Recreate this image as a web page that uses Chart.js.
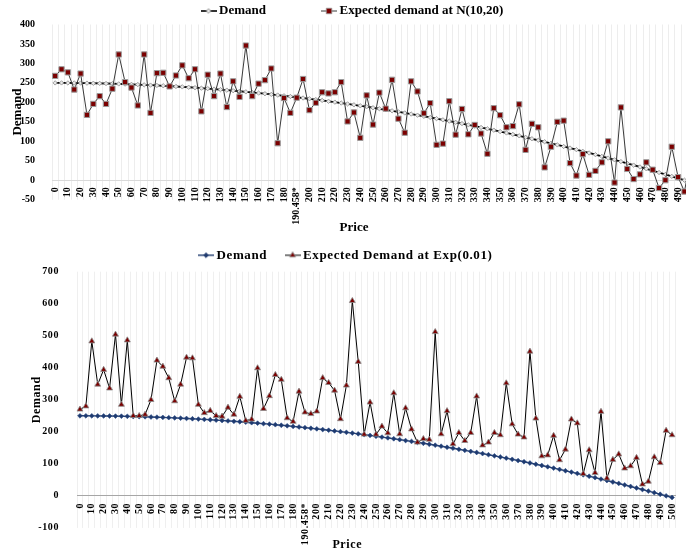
<!DOCTYPE html>
<html><head><meta charset="utf-8">
<script src="https://cdn.jsdelivr.net/npm/chart.js@4.4.1/dist/chart.umd.min.js"></script>
<style>
html,body{margin:0;padding:0;background:#fff;overflow:hidden;width:686px;height:553px;}
#wrap1{position:absolute;left:0;top:0;width:686px;height:240px;overflow:hidden;}
#wrap2{position:absolute;left:0;top:240px;width:686px;height:313px;overflow:hidden;}
canvas{display:block;}
</style></head><body>
<div id="wrap1"><canvas id="c1" width="710" height="240"></canvas></div>
<div id="wrap2"><canvas id="c2" width="700" height="313"></canvas></div>
<script>
const priceLabels = ['0','5','10','15','20','25','30','35','40','45','50','55','60','65','70','75','80','85','90','95',
 '100','105','110','115','120','125','130','135','140','145','150','155','160','165','170','175','180','185','190.458*','195',
 '200','205','210','215','220','225','230','235','240','245','250','255','260','265','270','275','280','285','290','295',
 '300','305','310','315','320','325','330','335','340','345','350','355','360','365','370','375','380','385','390','395',
 '400','405','410','415','420','425','430','435','440','445','450','455','460','465','470','475','480','485','490','495','500'];

const demand = [250,250,249.9,249.8,249.6,249.4,249.1,248.8,248.4,247.9,
 247.4,246.9,246.3,245.7,245,244.3,243.5,242.6,241.7,240.8,
 239.8,238.8,237.7,236.5,235.3,234.1,232.8,231.4,230,228.5,
 227,225.5,223.9,222.2,220.5,218.8,216.9,215.1,213,211.2,
 209.2,207.1,205,202.8,200.6,198.3,196,193.7,191.2,188.8,
 186.2,183.6,181,178.3,175.6,172.8,170,167.1,164.2,161.2,
 158.2,155.1,151.9,148.8,145.5,142.2,138.9,135.5,132,128.6,
 125,121.4,117.8,114.1,110.3,106.5,102.7,98.8,94.8,90.8,
 86.7,82.6,78.5,74.3,70,65.7,61.3,56.9,52.4,47.9,
 43.4,38.8,34.1,29.4,24.6,19.8,14.9,10,5,0,
 -5.1];

const expectedNormal = [268,285,277,233,274,168,196,216,196,235,
 323,252,238,192,323,173,275,276,241,269,
 295,262,285,177,271,216,274,188,254,214,
 346,216,248,257,287,95,211,173,212,260,
 180,199,226,223,226,252,151,174,109,218,
 143,225,184,258,158,122,254,228,172,198,
 91,94,203,117,183,118,142,120,68,185,
 167,136,139,195,78,145,136,33,86,150,
 153,44,12,67,14,24,46,100,-6,187,
 29,3,15,46,27,-20,0,86,8,-29,
 60];

const expectedExp = [270,280,483,348,394,336,504,285,486,250,
 250,254,300,423,404,368,296,348,432,430,
 285,259,266,250,248,276,254,310,235,239,
 399,272,312,378,363,243,232,326,261,256,
 264,368,353,329,240,345,609,419,192,292,
 192,217,196,321,193,274,208,167,178,176,
 512,193,265,162,197,172,197,311,158,167,
 197,190,352,224,192,183,451,242,124,127,
 188,112,145,239,227,69,143,72,263,55,
 113,130,86,93,119,36,45,121,103,204,
 190];

const topYTicks = [-50,0,50,100,150,200,250,300,350,400];
const bottomYTicks = [-100,0,100,200,300,400,500,600,700];

const FONT = "'Liberation Serif', 'Times New Roman', serif";
Chart.defaults.font.family = FONT;
Chart.defaults.color = '#000';

function legendIcon(lineColor, lineWidth, style, fill, stroke, r) {
  const c = document.createElement('canvas');
  c.width = 16; c.height = 10;
  const g = c.getContext('2d');
  g.strokeStyle = lineColor; g.lineWidth = lineWidth;
  g.beginPath(); g.moveTo(0, 5); g.lineTo(16, 5); g.stroke();
  g.fillStyle = fill; g.strokeStyle = stroke; g.lineWidth = 0.8;
  Chart.helpers.drawPoint(g, {pointStyle: style, radius: r, borderWidth: 0.8, rotation: 0}, 8, 5);
  return c;
}
function makeLegend(items) {
  return function() {
    return items.map((it, i) => ({
      text: it.text, pointStyle: it.icon, fillStyle: 'rgba(0,0,0,0)',
      strokeStyle: 'rgba(0,0,0,0)', lineWidth: 0, hidden: false, datasetIndex: i, fontColor: '#000'
    }));
  };
}
function zeroPad(s) { s.paddingLeft = 0; s.paddingRight = 0; }
function spacer(w) {
  return { position: 'right', display: true, grid: { display: false }, border: { display: false },
    ticks: { display: false }, afterFit(s) { s.width = w; } };
}

const topIcons = [
  legendIcon('#000', 1.6, 'rectRot', '#E8E8E8', '#8C8C8C', 2.4),
  legendIcon('#3A3A3A', 1, 'rect', '#7B0000', '#9A9A9A', 3.9)
];
const botIcons = [
  legendIcon('#1F3A6E', 1.4, 'rectRot', '#1F3A6E', '#1F3A6E', 2.4),
  legendIcon('#000', 1, 'triangle', '#7B0000', '#8C8C8C', 3.4)
];

new Chart(document.getElementById('c1'), {
  type: 'line',
  data: {
    labels: priceLabels,
    datasets: [
      { label: 'Demand', data: demand, borderColor: '#000', borderWidth: 1.8, tension: 0,
        pointStyle: 'rectRot', pointRadius: 2.2, pointBackgroundColor: '#E8E8E8',
        pointBorderColor: '#8C8C8C', pointBorderWidth: 0.8, order: 1 },
      { label: 'Expected demand at N(10,20)', data: expectedNormal, borderColor: '#3A3A3A', borderWidth: 1, tension: 0,
        pointStyle: 'rect', pointRadius: 3.7, pointBackgroundColor: '#7B0000',
        pointBorderColor: '#9A9A9A', pointBorderWidth: 1, order: 0 }
    ]
  },
  options: {
    responsive: false, animation: false, devicePixelRatio: 1,
    layout: { padding: { left: 0, right: 2, top: -54.5, bottom: 0 } },
    plugins: {
      legend: { position: 'top', maxHeight: 79,
        labels: { usePointStyle: true, pointStyleWidth: 8, padding: 59,
          font: { family: FONT, size: 13, weight: 'bold' }, color: '#000',
          generateLabels: makeLegend([{text: 'Demand', icon: topIcons[0]}, {text: 'Expected demand at N(10,20)', icon: topIcons[1]}]) } },
      title: { display: true, position: 'bottom', text: 'Price', color: '#000',
        font: { family: FONT, size: 13, weight: 'bold' }, padding: { top: 20.5, bottom: 4.2 } },
      tooltip: { enabled: false }
    },
    scales: {
      x: { type: 'category', position: { y: 0 }, offset: true, afterFit: zeroPad,
        grid: { offset: true, color: '#EDEDED', drawTicks: false, lineWidth: 1 },
        border: { display: true, color: '#D9D9D9' },
        ticks: { autoSkip: false, minRotation: 90, maxRotation: 90, padding: 7, color: '#000',
          font: { family: FONT, size: 10, weight: 'bold' },
          callback: (v, i) => (i % 2 === 0 ? priceLabels[i] : '') } },
      y: { position: 'left', min: topYTicks[0], max: topYTicks[topYTicks.length - 1],
        afterFit(s) { s.width = 52; },
        grid: { display: false }, border: { display: false },
        ticks: { stepSize: topYTicks[1] - topYTicks[0], padding: 9, color: '#000',
          font: { family: FONT, size: 10, weight: 'bold' } },
        title: { display: true, text: 'Demand', color: '#000',
          font: { family: FONT, size: 13, weight: 'bold' }, padding: { top: 10.2, bottom: 0 } } },
      y2: spacer(14)
    }
  }
});

const spacingPlugin = {
  id: 'spacing',
  beforeUpdate(chart) { chart.ctx.letterSpacing = '0.6px'; },
  beforeDraw(chart) { chart.ctx.letterSpacing = '0.6px'; }
};

new Chart(document.getElementById('c2'), {
  type: 'line',
  plugins: [spacingPlugin],
  data: {
    labels: priceLabels,
    datasets: [
      { label: 'Demand', data: demand, borderColor: '#1F3A6E', borderWidth: 1.4, tension: 0,
        pointStyle: 'rectRot', pointRadius: 2.4, pointBackgroundColor: '#1F3A6E',
        pointBorderColor: '#2E4F8A', pointBorderWidth: 0.6, order: 1 },
      { label: 'Expected Demand at Exp(0.01)', data: expectedExp, borderColor: '#000', borderWidth: 1, tension: 0,
        pointStyle: 'triangle', pointRadius: 3.4, pointBackgroundColor: '#7B0000',
        pointBorderColor: '#8C8C8C', pointBorderWidth: 0.8, order: 0 }
    ]
  },
  options: {
    responsive: false, animation: false, devicePixelRatio: 1,
    layout: { padding: { left: 0, right: 5.5, top: -12.8, bottom: 0 } },
    plugins: {
      legend: { position: 'top',
        labels: { usePointStyle: true, pointStyleWidth: 8, padding: 21.5,
          font: { family: FONT, size: 13, weight: 'bold' }, color: '#000',
          generateLabels: makeLegend([{text: 'Demand', icon: botIcons[0]}, {text: 'Expected Demand at Exp(0.01)', icon: botIcons[1]}]) } },
      title: { display: true, position: 'bottom', text: 'Price', color: '#000',
        font: { family: FONT, size: 12, weight: 'bold' }, padding: { top: 9.5, bottom: 1.2 } },
      tooltip: { enabled: false }
    },
    scales: {
      x: { type: 'category', position: { y: 0 }, offset: true, afterFit: zeroPad,
        grid: { offset: true, color: '#EFEFEF', drawTicks: false, lineWidth: 1 },
        border: { display: true, color: '#A6A6A6' },
        ticks: { autoSkip: false, minRotation: 90, maxRotation: 90, padding: 7, color: '#000',
          font: { family: FONT, size: 10, weight: 'bold' },
          callback: (v, i) => (i % 2 === 0 ? priceLabels[i] : '') } },
      y: { position: 'left', min: bottomYTicks[0], max: bottomYTicks[bottomYTicks.length - 1],
        afterFit(s) { s.width = 77; },
        grid: { display: false }, border: { display: false },
        ticks: { stepSize: bottomYTicks[1] - bottomYTicks[0], padding: 10, color: '#000',
          font: { family: FONT, size: 10, weight: 'bold' } },
        title: { display: true, text: 'Demand', color: '#000',
          font: { family: FONT, size: 12, weight: 'bold' }, padding: { top: 29.8, bottom: 0 } } },
      y2: spacer(19.5)
    }
  }
});
</script>
</body></html>
